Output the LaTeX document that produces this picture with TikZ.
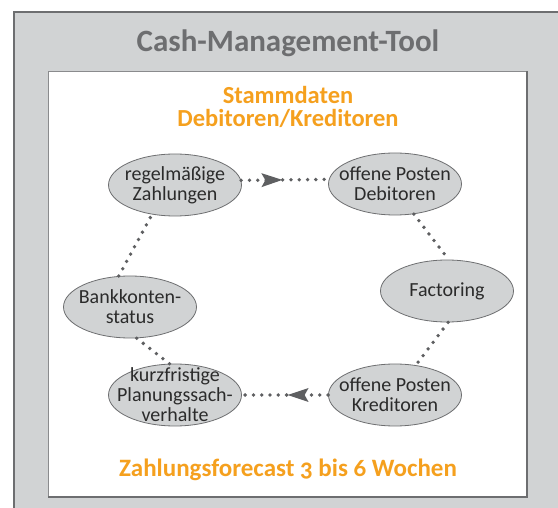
\documentclass[tikz,border=0pt]{standalone}
\usepackage{fontspec}
\setmainfont{Carlito}[Numbers=OldStyle]
\usetikzlibrary{shapes.geometric,decorations.markings}

\definecolor{panelgray}{HTML}{D1D3D4}
\definecolor{framegray}{HTML}{6D6E70}
\definecolor{dotgray}{HTML}{5E5F61}
\definecolor{textgray}{HTML}{2B2B2B}
\definecolor{headorange}{HTML}{F5A01E}

\tikzset{
  topic/.style={ellipse,draw=framegray,line width=0.8pt,fill=panelgray,
    minimum width=133pt,minimum height=62pt,inner xsep=-14pt,inner ysep=-7pt,align=center,
    text=textgray,font=\fontsize{20}{20}\selectfont},
  heading/.style={align=center,font=\bfseries\fontsize{24.5}{23}\selectfont,text=headorange},
  dots/.style={dotgray,line width=3.8pt,line cap=round,dash pattern=on 0pt off 8.3pt},
  flow/.style={dots,postaction={decorate},
    decoration={markings,mark=at position 0.47 with
      {\fill[dotgray] (0pt,0pt) -- (-21pt,7pt) -- (-17pt,0pt) -- (-21pt,-7pt) -- cycle;}}},
}

\begin{document}
\begin{tikzpicture}[x=1pt,y=-1pt]
 \useasboundingbox (0,0) rectangle (558,508);

 % frames
 \fill[panelgray] (14,12) rectangle (558,508);
 \draw[framegray,line width=1.2pt] (14,508) -- (14,12) -- (558,12);
 \fill[white] (48,71) rectangle (527,497);
 \draw[framegray!80,line width=0.8pt] (48,497) -- (48,71) -- (527,71);
 \draw[framegray,line width=1.6pt] (527,71) -- (527,497) -- (48,497);

 \node (node_title) at (288,52) [anchor=base,font=\bfseries\fontsize{31}{31}\selectfont,text=framegray] {Cash-Management-Tool};
 \node (node_stamm) at (288,107) [heading] {Stammdaten\\Debitoren/Kreditoren};
 \node (node_forecast) at (288,476) [heading,anchor=base,font=\bfseries\fontsize{25}{25}\selectfont] {Zahlungsforecast 3 bis 6 Wochen};

 \node (node_zahlungen) at (175,185) [topic] {regelmäßige\\Zahlungen};
 \node (node_debitoren) at (395,184) [topic] {offene Posten\\Debitoren};
 \node (node_factoring) at (447,291) [topic] {Factoring};
 \node (node_kreditoren) at (395,395) [topic] {offene Posten\\Kreditoren};
 \node (node_planung) at (175,395) [topic] {kurzfristige\\Planungssach-\\verhalte};
 \node (node_bank) at (130,307) [topic] {Bankkonten-\\status};

  \draw [flow] (node_zahlungen.4) -- (node_debitoren.176);
  \draw [dots] (node_debitoren.302) -- (node_factoring.87);
  \draw [dots] (node_factoring.272) -- (node_kreditoren.55);
  \draw [flow] (node_kreditoren.west) -- (node_planung.east);
  \draw [dots] (node_planung.100) -- (node_bank.282);
  \draw [dots] (node_bank.110) -- (node_zahlungen.232);
\end{tikzpicture}
\end{document}
